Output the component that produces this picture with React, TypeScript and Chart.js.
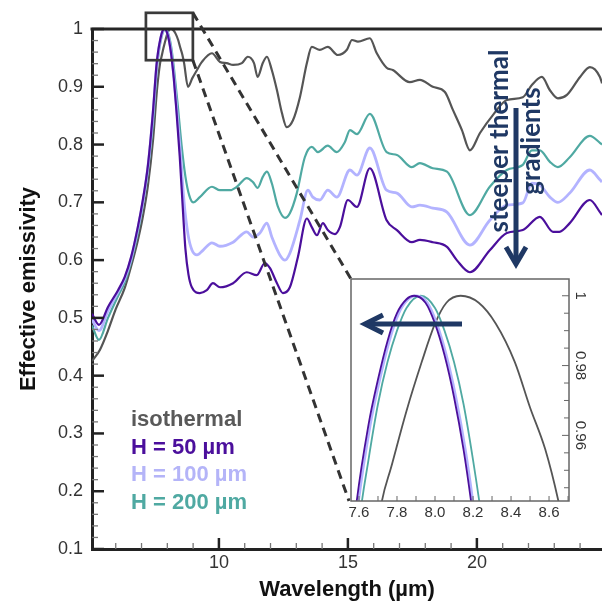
import React, { useEffect, useRef } from "react";
import { Chart, registerables } from "chart.js";

Chart.register(...registerables);

// ---------- data ----------
const isoWl = [5.08, 5.39, 5.7, 6.0, 6.35, 6.6, 6.86, 7.05, 7.25, 7.45, 7.6, 7.72, 7.77, 7.85, 7.93, 8.0, 8.06, 8.135, 8.23, 8.32, 8.42, 8.5, 8.58, 8.65, 8.8, 8.97, 9.15, 9.34, 9.73, 10.04, 10.3, 10.55, 10.89, 11.12, 11.36, 11.5, 11.7, 11.86, 12.05, 12.25, 12.44, 12.63, 12.87, 13.14, 13.41, 13.6, 13.91, 14.22, 14.61, 14.96, 15.16, 15.39, 15.85, 16.12, 16.5, 16.74, 17.4, 17.79, 18.29, 18.76, 19.07, 19.42, 19.73, 20.12, 20.62, 21.16, 21.78, 22.13, 22.52, 22.83, 23.14, 23.49, 24.0, 24.38, 24.77, 24.85];
const isoE = [0.425, 0.445, 0.478, 0.515, 0.552, 0.59, 0.635, 0.675, 0.73, 0.81, 0.895, 0.941, 0.951, 0.967, 0.981, 0.992, 0.998, 1.0, 0.998, 0.992, 0.981, 0.968, 0.956, 0.941, 0.9, 0.915, 0.929, 0.943, 0.958, 0.943, 0.941, 0.938, 0.941, 0.952, 0.941, 0.917, 0.941, 0.952, 0.929, 0.894, 0.855, 0.83, 0.842, 0.882, 0.941, 0.969, 0.964, 0.969, 0.955, 0.964, 0.981, 0.978, 0.984, 0.958, 0.933, 0.929, 0.908, 0.912, 0.9, 0.891, 0.86, 0.825, 0.79, 0.82, 0.851, 0.877, 0.882, 0.903, 0.917, 0.894, 0.88, 0.886, 0.917, 0.934, 0.917, 0.906];

const h50Wl = [5.08, 5.35, 5.7, 6.09, 6.35, 6.6, 6.86, 7.05, 7.25, 7.44, 7.58, 7.65, 7.7, 7.75, 7.8, 7.85, 7.89, 7.95, 8.0, 8.05, 8.1, 8.15, 8.19, 8.25, 8.35, 8.48, 8.6, 8.7, 8.82, 8.95, 9.26, 9.53, 9.77, 10.04, 10.55, 11.08, 11.47, 11.78, 11.98, 12.25, 12.48, 12.75, 13.06, 13.41, 13.6, 13.8, 14.03, 14.22, 14.5, 14.69, 15.0, 15.35, 15.85, 16.5, 16.9, 17.48, 17.79, 18.29, 18.84, 19.22, 19.73, 20.5, 21.16, 21.78, 22.44, 22.95, 23.2, 23.6, 24.38, 24.77, 24.85];
const h50E = [0.507, 0.488, 0.519, 0.548, 0.571, 0.606, 0.658, 0.704, 0.765, 0.855, 0.9375, 0.963, 0.976, 0.987, 0.995, 0.999, 1.0, 0.998, 0.992, 0.983, 0.971, 0.956, 0.941, 0.915, 0.86, 0.78, 0.69, 0.62, 0.575, 0.553, 0.543, 0.548, 0.56, 0.553, 0.56, 0.579, 0.574, 0.595, 0.586, 0.56, 0.543, 0.553, 0.605, 0.672, 0.657, 0.643, 0.664, 0.652, 0.645, 0.657, 0.704, 0.692, 0.759, 0.669, 0.652, 0.631, 0.635, 0.631, 0.623, 0.6, 0.579, 0.617, 0.647, 0.652, 0.675, 0.649, 0.649, 0.664, 0.704, 0.683, 0.678];

const h100Wl = [5.08, 5.35, 5.7, 6.09, 6.35, 6.6, 6.86, 7.05, 7.25, 7.44, 7.59, 7.66, 7.71, 7.76, 7.81, 7.86, 7.9, 7.96, 8.01, 8.06, 8.11, 8.16, 8.2, 8.26, 8.36, 8.5, 8.65, 8.8, 8.95, 9.15, 9.38, 9.73, 10.04, 10.55, 11.08, 11.32, 11.59, 11.86, 12.05, 12.36, 12.56, 12.75, 13.14, 13.45, 13.64, 13.91, 14.22, 14.57, 15.08, 15.35, 15.85, 16.5, 16.9, 17.48, 17.79, 18.29, 18.84, 19.73, 20.5, 21.16, 21.78, 22.13, 22.44, 22.83, 23.14, 23.6, 24.38, 24.77, 24.85];
const h100E = [0.497, 0.478, 0.512, 0.545, 0.568, 0.603, 0.655, 0.7, 0.762, 0.85, 0.9375, 0.963, 0.976, 0.987, 0.995, 0.999, 1.0, 0.998, 0.992, 0.983, 0.971, 0.956, 0.941, 0.915, 0.865, 0.79, 0.7, 0.645, 0.618, 0.609, 0.617, 0.63, 0.624, 0.631, 0.649, 0.64, 0.647, 0.664, 0.64, 0.609, 0.6, 0.612, 0.669, 0.721, 0.709, 0.704, 0.721, 0.709, 0.756, 0.747, 0.794, 0.721, 0.716, 0.692, 0.695, 0.69, 0.683, 0.626, 0.669, 0.695, 0.699, 0.733, 0.73, 0.709, 0.7, 0.716, 0.756, 0.739, 0.735];

const h200Wl = [5.08, 5.35, 5.7, 6.09, 6.35, 6.6, 6.86, 7.05, 7.25, 7.45, 7.6, 7.65, 7.7, 7.75, 7.8, 7.85, 7.925, 8.0, 8.05, 8.1, 8.15, 8.2, 8.25, 8.4, 8.55, 8.7, 8.85, 9.0, 9.26, 9.73, 10.04, 10.43, 10.7, 11.08, 11.32, 11.5, 11.7, 11.86, 12.05, 12.29, 12.56, 12.75, 13.02, 13.33, 13.6, 13.84, 14.22, 14.57, 14.88, 15.08, 15.35, 15.85, 16.5, 16.9, 17.48, 17.79, 18.29, 18.84, 19.73, 20.5, 21.16, 21.78, 22.13, 22.44, 22.83, 23.14, 23.6, 24.38, 24.77, 24.85];
const h200E = [0.487, 0.462, 0.5, 0.538, 0.562, 0.598, 0.648, 0.695, 0.755, 0.84, 0.9345, 0.953, 0.969, 0.981, 0.99, 0.9965, 1.0, 0.9965, 0.99, 0.981, 0.969, 0.953, 0.9345, 0.87, 0.8, 0.745, 0.712, 0.7, 0.709, 0.727, 0.721, 0.721, 0.727, 0.742, 0.735, 0.725, 0.744, 0.753, 0.733, 0.692, 0.673, 0.681, 0.716, 0.778, 0.796, 0.787, 0.798, 0.787, 0.804, 0.825, 0.818, 0.853, 0.787, 0.782, 0.761, 0.768, 0.759, 0.753, 0.678, 0.727, 0.756, 0.765, 0.79, 0.79, 0.77, 0.761, 0.778, 0.815, 0.803, 0.8];

const seriesLabels = ["isothermal", "H = 50 µm", "H = 100 µm", "H = 200 µm"];
const yTickValues = [0.1, 0.2, 0.3, 0.4, 0.5, 0.6, 0.7, 0.8, 0.9, 1.0];
const xTickValues = [10, 15, 20];
const insetXTicks = [7.6, 7.8, 8.0, 8.2, 8.4, 8.6];
const insetYTicks = [0.96, 0.98, 1.0];
const zoomBoxX = [7.17, 8.99];
const zoomBoxY = [0.946, 1.028];
const annotationLines = ["steeper thermal", "gradients"];
const xTitle = "Wavelength (µm)";
const yTitle = "Effective emissivity";

// ---------- styling / layout ----------
const COLORS = { iso: "#555555", h50: "#4B0F9C", h100: "#B3B3FF", h200: "#4FA9A2" };
const TEXT_COLORS = { iso: "#595959", h50: "#4B0F9C", h100: "#B4B4F8", h200: "#4FA9A2" };
const NAVY = "#1F3864";
const FONT = '"Liberation Sans", Arial, sans-serif';
const INSET_POS = { left: 340, top: 270, width: 262, height: 260 };
const INSET_PAD = { left: 11, top: 9 };
const INSET_AXIS = { bottom: 29, right: 33 };

function pts(xs: number[], ys: number[]) {
  return xs.map((x, i) => ({ x, y: ys[i] }));
}

function makeDatasets(w: number) {
  const base = { pointRadius: 0, fill: false, cubicInterpolationMode: "monotone" as const };
  return [
    { ...base, label: seriesLabels[1], data: pts(h50Wl, h50E), borderColor: COLORS.h50, borderWidth: w },
    { ...base, label: seriesLabels[2], data: pts(h100Wl, h100E), borderColor: COLORS.h100, borderWidth: w + 0.6 },
    { ...base, label: seriesLabels[3], data: pts(h200Wl, h200E), borderColor: COLORS.h200, borderWidth: w },
    { ...base, label: seriesLabels[0], data: pts(isoWl, isoE), borderColor: COLORS.iso, borderWidth: w },
  ];
}

function line(ctx: CanvasRenderingContext2D, x1: number, y1: number, x2: number, y2: number) {
  ctx.beginPath();
  ctx.moveTo(x1, y1);
  ctx.lineTo(x2, y2);
  ctx.stroke();
}

const mainDecor = {
  id: "mainDecor",
  afterDraw(chart: any) {
    const { ctx, chartArea: a, scales } = chart;
    const x = scales.x;
    const y = scales.y;
    ctx.save();
    // top frame line
    ctx.strokeStyle = "#262626";
    ctx.lineWidth = 3;
    line(ctx, a.left - 1.5, a.top, a.right, a.top);

    // y ticks (inward)
    for (let i = 5; i <= 50; i++) {
      const v = i / 50;
      const py = y.getPixelForValue(v);
      const major = i % 5 === 0;
      ctx.strokeStyle = major ? "#222" : "#777";
      ctx.lineWidth = major ? 2.5 : 1.3;
      line(ctx, a.left, py, a.left + (major ? 12 : 6), py);
    }
    // x ticks (inward)
    for (let v = Math.ceil(x.min); v <= Math.floor(x.max); v++) {
      const px = x.getPixelForValue(v);
      const major = v % 5 === 0;
      ctx.strokeStyle = major ? "#222" : "#777";
      ctx.lineWidth = major ? 2.5 : 1.3;
      line(ctx, px, a.bottom, px, a.bottom - (major ? 11 : 6));
    }

    // zoom box
    const bx1 = x.getPixelForValue(zoomBoxX[0]);
    const bx2 = x.getPixelForValue(zoomBoxX[1]);
    const by1 = y.getPixelForValue(zoomBoxY[1]);
    const by2 = y.getPixelForValue(zoomBoxY[0]);
    ctx.strokeStyle = "#3a3a3a";
    ctx.lineWidth = 2.7;
    ctx.strokeRect(bx1, by1, bx2 - bx1, by2 - by1);

    // dashed connectors to inset frame
    const fL = INSET_POS.left + INSET_PAD.left;
    const fT = INSET_POS.top + INSET_PAD.top;
    const fB = INSET_POS.top + INSET_POS.height - INSET_AXIS.bottom;
    ctx.setLineDash([9, 6]);
    ctx.strokeStyle = "#333";
    ctx.lineWidth = 3;
    line(ctx, bx2, by1, fL, fT);
    line(ctx, bx2, by2, fL - 2, fB);
    ctx.setLineDash([]);

    // axis titles
    ctx.fillStyle = "#111";
    ctx.font = `bold 22px ${FONT}`;
    ctx.textAlign = "center";
    ctx.textBaseline = "alphabetic";
    ctx.fillText(xTitle, (a.left + a.right) / 2, 596);
    ctx.save();
    ctx.translate(35, (a.top + a.bottom) / 2);
    ctx.rotate(-Math.PI / 2);
    ctx.fillText(yTitle, 0, 0);
    ctx.restore();

    // legend text
    const legendColors = [TEXT_COLORS.iso, TEXT_COLORS.h50, TEXT_COLORS.h100, TEXT_COLORS.h200];
    ctx.font = `bold 22px ${FONT}`;
    ctx.textAlign = "left";
    seriesLabels.forEach((t, i) => {
      ctx.fillStyle = legendColors[i];
      ctx.fillText(t, 131, 426 + i * 27.5);
    });

    // annotation text
    ctx.fillStyle = NAVY;
    ctx.font = `bold 26px Lato, "Open Sans", sans-serif`;
    ctx.save();
    ctx.translate(508, 141);
    ctx.rotate(-Math.PI / 2);
    ctx.textAlign = "center";
    ctx.fillText(annotationLines[0], 0, 0);
    ctx.fillText(annotationLines[1], 0, 32);
    ctx.restore();

    // downward arrow
    ctx.strokeStyle = NAVY;
    ctx.lineWidth = 5;
    ctx.lineCap = "butt";
    ctx.lineJoin = "miter";
    line(ctx, 516, 108, 516, 262);
    ctx.beginPath();
    ctx.moveTo(506, 247);
    ctx.lineTo(516, 264);
    ctx.lineTo(526, 247);
    ctx.stroke();
    ctx.restore();
  },
};

const insetDecor = {
  id: "insetDecor",
  beforeDraw(chart: any) {
    const { ctx, chartArea: a } = chart;
    ctx.save();
    ctx.fillStyle = "#ffffff";
    ctx.fillRect(a.left, a.top, a.right - a.left, a.bottom - a.top);
    ctx.restore();
  },
  afterDraw(chart: any) {
    const { ctx, chartArea: a, scales } = chart;
    const x = scales.x;
    const y = scales.y;
    ctx.save();
    ctx.strokeStyle = "#666";
    ctx.lineWidth = 1.5;
    ctx.strokeRect(a.left, a.top, a.right - a.left, a.bottom - a.top);
    // bottom ticks every 0.1
    ctx.lineWidth = 1;
    for (let i = 76; i <= 87; i++) {
      const px = x.getPixelForValue(i / 10);
      if (px < a.left || px > a.right) continue;
      line(ctx, px, a.bottom, px, a.bottom - 5);
    }
    // right ticks every 0.005
    for (let i = 189; i <= 200; i++) {
      const v = i / 200;
      const py = y.getPixelForValue(v);
      if (py < a.top || py > a.bottom) continue;
      const major = i % 4 === 0;
      line(ctx, a.right, py, a.right - (major ? 7 : 5), py);
    }
    // right labels (rotated)
    ctx.fillStyle = "#333";
    ctx.font = `15px ${FONT}`;
    ctx.textAlign = "center";
    ctx.textBaseline = "middle";
    insetYTicks.forEach((v) => {
      const py = y.getPixelForValue(v);
      ctx.save();
      ctx.translate(a.right + 11, py);
      ctx.rotate(Math.PI / 2);
      ctx.fillText(v === 1 ? "1" : v.toFixed(2), 0, 0);
      ctx.restore();
    });
    // leftward arrow
    ctx.strokeStyle = NAVY;
    ctx.lineWidth = 5;
    ctx.lineJoin = "miter";
    line(ctx, 122, 54, 27, 54);
    ctx.beginPath();
    ctx.moveTo(43, 45);
    ctx.lineTo(25, 54);
    ctx.lineTo(43, 63);
    ctx.stroke();
    ctx.restore();
  },
};

export default function App() {
  const mainRef = useRef<HTMLCanvasElement>(null);
  const insetRef = useRef<HTMLCanvasElement>(null);

  useEffect(() => {
    const main = new Chart(mainRef.current as HTMLCanvasElement, {
      type: "line",
      data: { datasets: makeDatasets(2.2) as any },
      options: {
        responsive: false,
        animation: false,
        devicePixelRatio: 1,
        layout: { padding: { top: 29, right: 0, left: 0, bottom: 0 } },
        plugins: { legend: { display: false }, tooltip: { enabled: false } },
        scales: {
          x: {
            type: "linear",
            min: 5.08,
            max: 24.85,
            afterFit: (s: any) => {
              s.height = 53;
            },
            afterBuildTicks: (s: any) => {
              s.ticks = xTickValues.map((v) => ({ value: v }));
            },
            grid: { display: false, drawTicks: false },
            border: { display: true, color: "#222", width: 3 },
            ticks: {
              color: "#333",
              padding: 3,
              font: { size: 18, family: FONT },
              callback: (v: any) => String(v),
            },
          },
          y: {
            type: "linear",
            min: 0.1,
            max: 1.0,
            afterFit: (s: any) => {
              s.width = 92;
            },
            afterBuildTicks: (s: any) => {
              s.ticks = yTickValues.map((v) => ({ value: v }));
            },
            grid: { display: false, drawTicks: false },
            border: { display: true, color: "#222", width: 3 },
            ticks: {
              color: "#333",
              padding: 9,
              font: { size: 18, family: FONT },
              callback: (v: any) => String(Number(Number(v).toFixed(1))),
            },
          },
        },
      },
      plugins: [mainDecor],
    });

    const inset = new Chart(insetRef.current as HTMLCanvasElement, {
      type: "line",
      data: { datasets: makeDatasets(1.8) as any },
      options: {
        responsive: false,
        animation: false,
        devicePixelRatio: 1,
        layout: { padding: { top: INSET_PAD.top, left: INSET_PAD.left, right: 0, bottom: 0 } },
        plugins: { legend: { display: false }, tooltip: { enabled: false } },
        scales: {
          x: {
            type: "linear",
            min: 7.558,
            max: 8.705,
            afterFit: (s: any) => {
              s.height = INSET_AXIS.bottom;
            },
            afterBuildTicks: (s: any) => {
              s.ticks = insetXTicks.map((v) => ({ value: v }));
            },
            grid: { display: false, drawTicks: false },
            border: { display: false },
            ticks: {
              color: "#333",
              padding: 3,
              font: { size: 15, family: FONT },
              callback: (v: any) => Number(v).toFixed(1),
            },
          },
          y: {
            type: "linear",
            position: "right",
            min: 0.9412,
            max: 1.0048,
            afterFit: (s: any) => {
              s.width = INSET_AXIS.right;
            },
            grid: { display: false, drawTicks: false },
            border: { display: false },
            ticks: { display: false },
          },
        },
      },
      plugins: [insetDecor],
    });

    return () => {
      main.destroy();
      inset.destroy();
    };
  }, []);

  return (
    <div style={{ position: "fixed", left: 0, top: 0, width: 602, height: 602, background: "#fff" }}>
      <canvas
        ref={mainRef}
        width={602}
        height={602}
        style={{ position: "absolute", left: 0, top: 0, width: 602, height: 602 }}
      />
      <canvas
        ref={insetRef}
        width={INSET_POS.width}
        height={INSET_POS.height}
        style={{
          position: "absolute",
          left: INSET_POS.left,
          top: INSET_POS.top,
          width: INSET_POS.width,
          height: INSET_POS.height,
        }}
      />
    </div>
  );
}
